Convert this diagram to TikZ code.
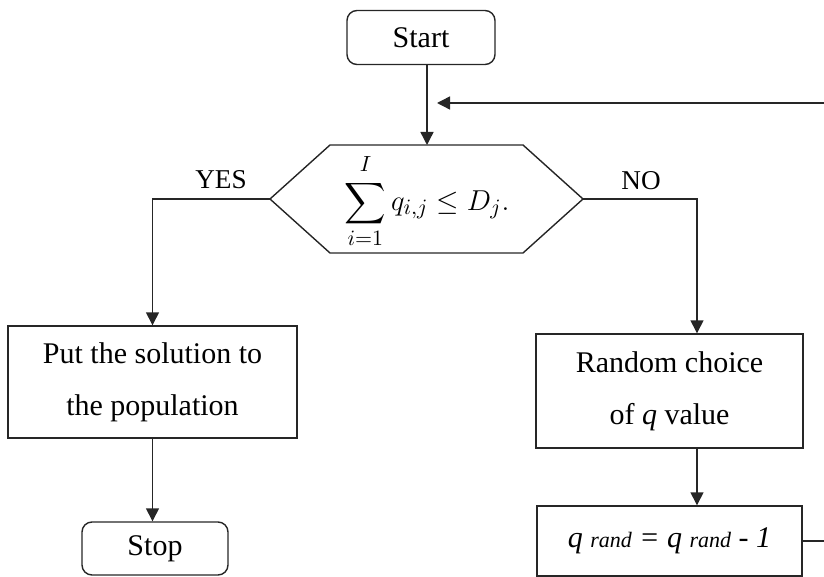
\documentclass[tikz,border=0pt]{standalone}
\usepackage{amsmath}
\usepackage{fontspec}
\setmainfont{Liberation Serif}
\usetikzlibrary{arrows.meta}

\begin{document}
\begin{tikzpicture}[x=0.5pt,y=-0.5pt,line width=0.7pt,draw=black!85,
    font=\fontsize{15}{26}\selectfont,
    arr/.style={-{Triangle[width=6.5pt,length=6.5pt]}},
    termbox/.style={draw,rounded corners=5pt,minimum width=#1,minimum height=27pt,inner sep=0pt},
    stepbox/.style={draw,align=center,inner sep=0pt},
    lbl/.style={font=\fontsize{13.6}{16}\selectfont}]
            \useasboundingbox (0,0) rectangle (824,577);
            \clip (0,0) rectangle (824,577);
            % terminals and boxes
            \node[termbox=74pt] (start) at (421,37.5) {Start};
            \node[stepbox,minimum width=144.5pt,minimum height=56pt] (put) at (152.5,382)
                {Put the solution to\\the population};
            \node[termbox=73pt,minimum height=26.5pt] (stop) at (155,548.5) {Stop};
            \node[stepbox,minimum width=133.5pt,minimum height=57pt] (rnd) at (669.5,391)
                {Random choice\\of \textit{q} value};
            \node[stepbox,minimum width=132.5pt,minimum height=35pt] (qr) at (669.5,541)
                {\itshape q {\fontsize{11}{12}\selectfont rand} = q {\fontsize{11}{12}\selectfont rand} - 1};
            % decision
            \coordinate (hl) at (270,199);
            \coordinate (hr) at (583,199);
            \coordinate (ht) at (427,145);
            \draw (hl) -- (330,145) -- (523,145) -- (hr) -- (523,253) -- (330,253) -- cycle;
            \node[inner sep=0pt] (cond) at (427,201) {\fontsize{15}{18}\selectfont
                $\displaystyle\sum_{\scriptstyle i=1}^{\raisebox{1.5pt}{$\scriptstyle I$}} q_{i,j} \le D_j.$};
            \node[lbl] (yes) at (221,180) {YES};
            \node[lbl] (no) at (641,181) {NO};
            \coordinate (nox) at (697,0);
            \coordinate (back) at (437,103);
            % connectors
            \draw[arr] (start.south -| ht) -- (ht);
            \draw[arr] (hl) -| (put.north);
            \draw[arr] (put) -- (put |- stop.north);
            \draw[arr] (hr) -| (rnd.north -| nox);
            \draw[arr] (rnd.south -| nox) -- (qr.north -| nox);
            \draw[arr] (qr.east) -- ++(70,0) |- (back);
        \end{tikzpicture}
\end{document}
